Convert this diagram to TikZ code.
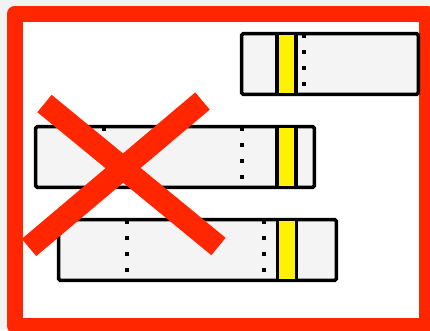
\documentclass[tikz,border=0pt]{standalone}
\definecolor{xred}{RGB}{255,38,0}
\definecolor{boxgray}{RGB}{244,244,244}
\definecolor{bggray}{RGB}{242,242,242}
\begin{document}
\begin{tikzpicture}[x=1pt,y=-1pt,
  frame/.style={draw=xred, fill=white, line width=16pt, line join=round},
  barbox/.style={draw=black, fill=boxgray, line width=3.5pt, rounded corners=1.5pt},
  band/.style={fill=yellow},
  sep/.style={draw=black, line width=3.5pt},
  dotline/.style={draw=black, line width=3.5pt, dash pattern=on 4pt off 12pt},
  cross/.style={draw=xred, line width=22.5pt}]
\fill[bggray] (0,0) rectangle (430,330);
\useasboundingbox (0,0) rectangle (430,330);
\path[frame] (15,13.5) rectangle (427,326);
% top box
\path[barbox] (241.7,33.7) rectangle (418.3,94.3);
\fill[band] (277,35) rectangle (296,93);
\draw[sep] (277,33.7) -- (277,94.3);
\draw[sep] (296,33.7) -- (296,94.3);
\draw[dotline] (304,34) -- (304,94);
% middle box
\path[barbox] (35.7,126.7) rectangle (314.3,187.3);
\fill[band] (277,128) rectangle (296,186);
\draw[sep] (277,126.7) -- (277,187.3);
\draw[sep] (296,126.7) -- (296,187.3);
\draw[dotline] (104,127) -- (104,187);
\draw[dotline] (242,127) -- (242,187);
% bottom box
\path[barbox] (58.7,219.7) rectangle (336.3,280.3);
\fill[band] (277.5,221) rectangle (296.7,279);
\draw[sep] (277.5,219.7) -- (277.5,280.3);
\draw[sep] (296.7,219.7) -- (296.7,280.3);
\draw[dotline] (127,220) -- (127,280);
\draw[dotline] (264,220) -- (264,280);
% cross
\draw[cross] (44.5,103.5) -- (218.5,246.5);
\draw[cross] (202.5,101) -- (29,247.5);
\end{tikzpicture}
\end{document}
